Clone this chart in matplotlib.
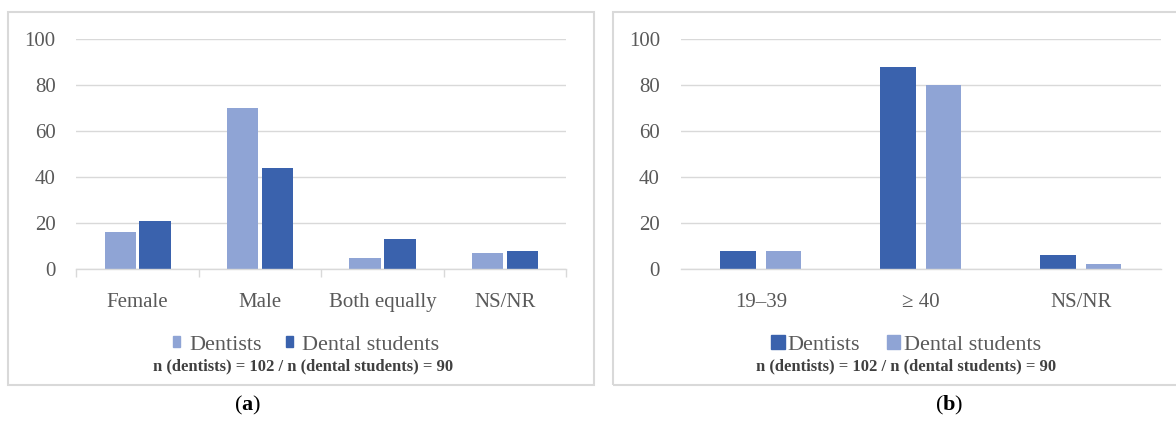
import matplotlib
matplotlib.use("Agg")
import matplotlib.pyplot as plt
from matplotlib.patches import Patch, Rectangle
import numpy as np

# ---- data ----
cats_a = ["Female", "Male", "Both equally", "NS/NR"]
dentists_a = [16, 70, 5, 7]
students_a = [21, 44, 13, 8]

cats_b = ["19\u201339", "\u2265 40", "NS/NR"]
dentists_b = [8, 88, 6]
students_b = [8, 80, 2]

yticks = [0, 20, 40, 60, 80, 100]
note = "n (dentists) = 102 / n (dental students) = 90"

DARK = "#3A62AD"
LIGHT = "#8FA4D5"
GRID = "#D9D9D9"
TXT = "#595959"

plt.rcParams['font.family'] = ['Liberation Serif', 'DejaVu Serif']
plt.rcParams['mathtext.fontset'] = 'custom'
plt.rcParams['mathtext.rm'] = 'Liberation Serif'
plt.rcParams['mathtext.bf'] = 'Liberation Serif:bold'

W, H = 1176, 436
fig = plt.figure(figsize=(W / 100, H / 100), dpi=100)

def fx(px):
    return px / W

def fy(py):
    return 1 - py / H

# panel borders
for (x0, x1) in [(8, 594), (613, 1185)]:
    fig.patches.append(Rectangle((fx(x0), fy(385)), fx(x1 - x0), (385 - 12) / H,
                                 transform=fig.transFigure, fill=False,
                                 edgecolor=GRID, linewidth=1.5))

def make_axes(left, right):
    ax = fig.add_axes([fx(left), fy(269), fx(right - left), 230 / H])
    ax.set_ylim(0, 100)
    ax.set_yticks(yticks)
    ax.yaxis.grid(True, color=GRID, linewidth=1.0)
    ax.set_axisbelow(True)
    for s in ["top", "right", "left"]:
        ax.spines[s].set_visible(False)
    ax.spines["bottom"].set_color(GRID)
    ax.spines["bottom"].set_linewidth(1.0)
    ax.tick_params(axis="y", length=0, pad=15, labelsize=15, labelcolor=TXT)
    ax.tick_params(axis="x", which="major", length=0, pad=17, labelsize=15, labelcolor=TXT)
    return ax

LEG_Y = 345
NOTE_Y = 366

# ---- panel (a) ----
ax1 = make_axes(76.4, 566.2)
x = np.arange(len(cats_a))
w, off = 0.255, 0.1425
ax1.bar(x - off, dentists_a, w, color=LIGHT)
ax1.bar(x + off, students_a, w, color=DARK)
ax1.set_xlim(-0.5, len(cats_a) - 0.5)
ax1.set_xticks(x, cats_a)
ax1.set_xticks(np.arange(len(cats_a) + 1) - 0.5, minor=True)
ax1.tick_params(axis="x", which="minor", length=6, color=GRID, width=1.0)
fig.legend(handles=[Patch(color=LIGHT, label="Dentists"),
                    Patch(color=DARK, label="Dental students")],
           loc="center", bbox_to_anchor=(fx(306), fy(LEG_Y)), ncol=2,
           frameon=False, fontsize=16, handlelength=0.33, handleheight=0.33,
           handletextpad=0.4, columnspacing=1.1, labelcolor=TXT,
           borderpad=0, borderaxespad=0)
fig.text(fx(303), fy(NOTE_Y), note, ha="center", va="center", fontsize=12,
         color="#404040", fontweight="bold")
fig.text(fx(248), fy(405), r"($\mathbf{a}$)", ha="center", va="center", fontsize=16,
         color="black")

# ---- panel (b) ----
ax2 = make_axes(680.8, 1160.6)
x = np.arange(len(cats_b))
w, off = 0.222, 0.1425
ax2.bar(x - off, dentists_b, w, color=DARK)
ax2.bar(x + off, students_b, w, color=LIGHT)
ax2.set_xlim(-0.5, len(cats_b) - 0.5)
ax2.set_xticks(x, cats_b)
fig.legend(handles=[Patch(color=DARK, label="Dentists"),
                    Patch(color=LIGHT, label="Dental students")],
           loc="center", bbox_to_anchor=(fx(906), fy(LEG_Y)), ncol=2,
           frameon=False, fontsize=16, handlelength=0.6, handleheight=0.6,
           handletextpad=0.15, columnspacing=1.2, labelcolor=TXT,
           borderpad=0, borderaxespad=0)
fig.text(fx(906), fy(NOTE_Y), note, ha="center", va="center", fontsize=12,
         color="#404040", fontweight="bold")
fig.text(fx(949), fy(405), r"($\mathbf{b}$)", ha="center", va="center", fontsize=16,
         color="black")

fig.savefig("out.png", dpi=100)
